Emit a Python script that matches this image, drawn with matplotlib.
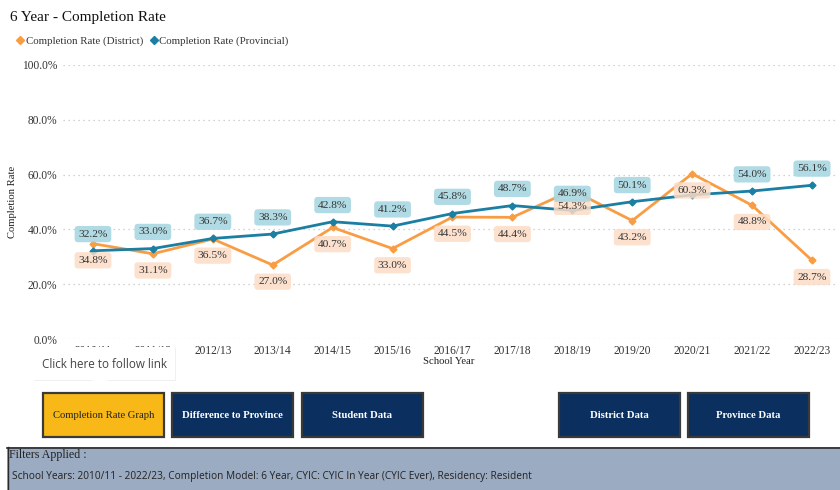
import matplotlib
matplotlib.use("Agg")
import matplotlib.pyplot as plt
from matplotlib.lines import Line2D
from matplotlib.patches import Rectangle, Polygon
import numpy as np

# completion rate data, 6 year model
years = ["2010/11", "2011/12", "2012/13", "2013/14", "2014/15", "2015/16", "2016/17",
         "2017/18", "2018/19", "2019/20", "2020/21", "2021/22", "2022/23"]
district = [34.8, 31.1, 36.5, 27.0, 40.7, 33.0, 44.5, 44.4, 54.3, 43.2, 60.3, 48.8, 28.7]
provincial = [32.2, 33.0, 36.7, 38.3, 42.8, 41.2, 45.8, 48.7, 46.9, 50.1, 52.6, 54.0, 56.1]
prov_shown = [True] * 10 + [False] + [True] * 2   # 2020/21 label hidden by overlap

buttons = ["Completion Rate Graph", "Difference to Province", "Student Data",
           "District Data", "Province Data"]
filter_text = ("School Years: 2010/11 - 2022/23, Completion Model: 6 Year, "
               "CYIC: CYIC In Year (CYIC Ever), Residency: Resident")

ORANGE = "#F99D45"
BLUE = "#1A7FA2"
NAVY = "#0B2F5F"
YELLOW = "#F8B817"
SERIF = "Liberation Serif"

W, H = 840, 490
fig = plt.figure(figsize=(W / 100, H / 100), dpi=100)

def fx(px):
    return px / W

def fy(py):
    return 1 - py / H

# main chart area
left, right, top, bot = 63, 835, 65, 339
ax = fig.add_axes([fx(left), fy(bot), fx(right - left), (bot - top) / H])
x = np.arange(len(years))
ax.plot(x, district, color=ORANGE, lw=2, marker="D", ms=3.5, zorder=3)
ax.plot(x, provincial, color=BLUE, lw=2, marker="D", ms=3.5, zorder=4)
ax.set_xlim(-0.5, 12.384)
ax.set_ylim(0, 100)
ax.set_yticks([0, 20, 40, 60, 80, 100])
ax.set_yticklabels([f"{v:.1f}%" for v in [0, 20, 40, 60, 80, 100]])
ax.set_xticks(x)
ax.set_xticklabels(years)
ax.tick_params(length=0, labelsize=8.3, colors="#333333", pad=4)
for lab in ax.get_xticklabels() + ax.get_yticklabels():
    lab.set_fontfamily(SERIF)
ax.grid(axis="y", linestyle=(0, (1, 3)), color="#c4c4c4", lw=0.9)
for s in ax.spines.values():
    s.set_visible(False)
ax.set_ylabel("Completion Rate", fontsize=7.7, family=SERIF, color="#222222", labelpad=4)
ax.set_xlabel("School Year", fontsize=7.7, family=SERIF, color="#222222", labelpad=0.5)

for i in range(len(years)):
    ax.annotate(f"{district[i]:.1f}%", (x[i], district[i]), xytext=(0, -12),
                textcoords="offset points", ha="center", va="center", fontsize=8.2,
                family=SERIF, color="#333333", zorder=5,
                bbox=dict(boxstyle="round,pad=0.32,rounding_size=0.3", fc="#FCDCC6",
                          ec="none", alpha=0.85))
    if prov_shown[i]:
        ax.annotate(f"{provincial[i]:.1f}%", (x[i], provincial[i]), xytext=(0, 12),
                    textcoords="offset points", ha="center", va="center", fontsize=8.2,
                    family=SERIF, color="#333333", zorder=6,
                    bbox=dict(boxstyle="round,pad=0.32,rounding_size=0.3", fc="#A9D7E2",
                              ec="none", alpha=0.9))

# title and legend
fig.text(fx(10), fy(17), "6 Year - Completion Rate", fontsize=11, family=SERIF,
         color="#111111", va="center")
handles = [Line2D([], [], color=ORANGE, marker="D", ls="none", ms=4),
           Line2D([], [], color=BLUE, marker="D", ls="none", ms=4)]
fig.legend(handles, ["Completion Rate (District)", "Completion Rate (Provincial)"],
           loc="center left", bbox_to_anchor=(fx(6), fy(41)), ncol=2, frameon=False,
           prop={"family": SERIF, "size": 7.8}, handlelength=0.8, handletextpad=0.1,
           columnspacing=0.6, labelcolor="#333333")

# overlay for the page controls, in pixel coordinates
ui = fig.add_axes([0, 0, 1, 1], zorder=10)
ui.set_xlim(0, W)
ui.set_ylim(H, 0)
ui.axis("off")
ui.patch.set_alpha(0)

# tooltip
ui.add_patch(Rectangle((34, 348), 142, 33, fc="#e6e6e6", ec="none", alpha=0.6))
ui.add_patch(Rectangle((33, 347), 142, 33, fc="white", ec="none"))
ui.add_patch(Polygon([(92, 380), (108, 380), (100, 388)], closed=True, fc="white", ec="none"))
ui.text(104, 364, "Click here to follow link", fontsize=8.4, family="Open Sans",
        color="#444444", ha="center", va="center")

# buttons
btn_x = [43, 172, 302, 559, 688]
for i, (bx, name) in enumerate(zip(btn_x, buttons)):
    fc = YELLOW if i == 0 else NAVY
    tc = "#222222" if i == 0 else "white"
    ui.add_patch(Rectangle((bx, 393), 121, 44, fc=fc, ec="#3a3a3a", lw=1.6))
    ui.text(bx + 60.5, 415, name, fontsize=7.7, family=SERIF, color=tc,
            ha="center", va="center", weight="bold" if i else "normal")

# filter panel
ui.add_patch(Rectangle((7, 447), W - 7, 45, fc="#9BABC2", ec="none"))
ui.plot([7, W], [447.5, 447.5], color="#2a2a2a", lw=1.2)
ui.plot([7.5, 7.5], [447, H], color="#2a2a2a", lw=1.0)
ui.text(9, 455, "Filters Applied :", fontsize=8.6, family=SERIF, color="#222222", va="center")
ui.text(12, 476, filter_text, fontsize=7.3, family="Open Sans", color="#222222", va="center")

fig.savefig("out.png", dpi=100)
